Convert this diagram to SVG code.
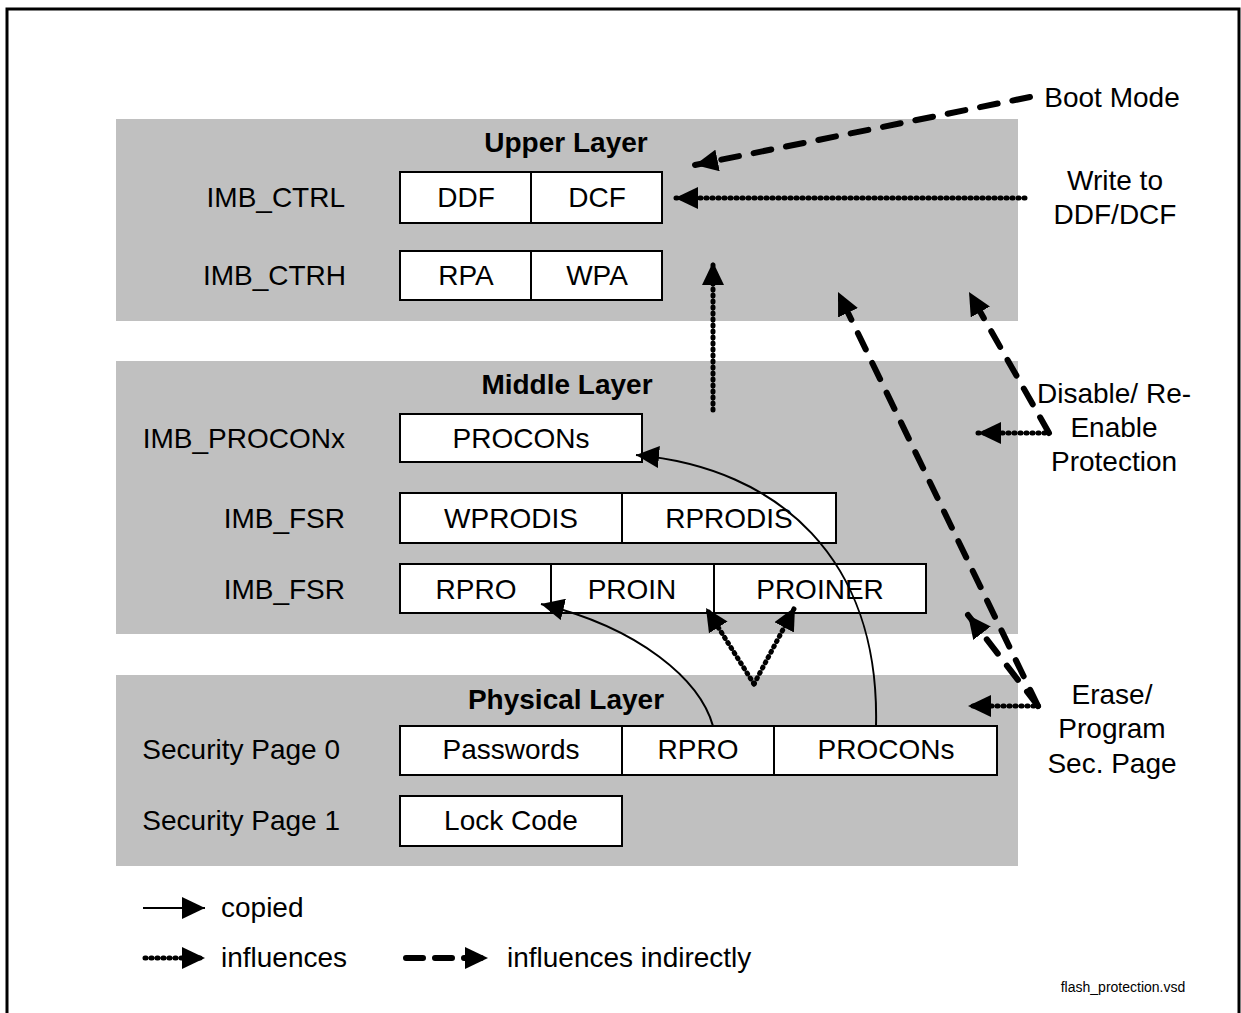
<svg xmlns="http://www.w3.org/2000/svg" width="1241" height="1013" viewBox="0 0 1241 1013">
<style>
text{font-family:"Liberation Sans",Arial,sans-serif;font-size:28px;fill:#000}
.b{font-weight:bold}
.m{text-anchor:middle}
.e{text-anchor:end}
.layer{fill:#c0c0c0;stroke:none}
.box{fill:#fff;stroke:#000;stroke-width:2}
.div{stroke:#000;stroke-width:2}
.solid{fill:none;stroke:#000;stroke-width:2;marker-end:url(#ah)}
.dot{fill:none;stroke:#000;stroke-width:5;stroke-linecap:round;stroke-dasharray:1 5;marker-end:url(#ah)}
.dash{fill:none;stroke:#000;stroke-width:6;stroke-linecap:round;stroke-dasharray:18 15;marker-end:url(#ah)}
</style>
<defs>
<marker id="ah" markerUnits="userSpaceOnUse" markerWidth="24" markerHeight="22" refX="23" refY="11" orient="auto" viewBox="0 0 24 22">
<path d="M0,0 L23,11 L0,22 z" fill="#000"/>
</marker>
</defs>
<rect x="7" y="9" width="1232" height="1020" fill="#fff" stroke="#000" stroke-width="3"/>

<g id="upper-layer">
<rect class="layer" x="116" y="119" width="902" height="202"/>
<text class="b m" x="566" y="152">Upper Layer</text>
<text class="e" x="345" y="207">IMB_CTRL</text>
<text class="e" x="346" y="285">IMB_CTRH</text>
</g>
<g id="imb-ctrl">
<rect class="box" x="400" y="172" width="262" height="51"/>
<line class="div" x1="531" y1="172" x2="531" y2="223"/>
<text class="m" x="466" y="207">DDF</text>
<text class="m" x="597" y="207">DCF</text>
</g>
<g id="imb-ctrh">
<rect class="box" x="400" y="251" width="262" height="49"/>
<line class="div" x1="531" y1="251" x2="531" y2="300"/>
<text class="m" x="466" y="285">RPA</text>
<text class="m" x="597" y="285">WPA</text>
</g>

<g id="middle-layer">
<rect class="layer" x="116" y="361" width="902" height="273"/>
<text class="b m" x="567" y="394">Middle Layer</text>
<text class="e" x="345" y="448">IMB_PROCONx</text>
<text class="e" x="345" y="528">IMB_FSR</text>
<text class="e" x="345" y="599">IMB_FSR</text>
</g>
<g id="procons-mid">
<rect class="box" x="400" y="414" width="242" height="48"/>
<text class="m" x="521" y="448">PROCONs</text>
</g>
<g id="fsr1">
<rect class="box" x="400" y="493" width="436" height="50"/>
<line class="div" x1="622" y1="493" x2="622" y2="543"/>
<text class="m" x="511" y="528">WPRODIS</text>
<text class="m" x="729" y="528">RPRODIS</text>
</g>
<g id="fsr2">
<rect class="box" x="400" y="564" width="526" height="49"/>
<line class="div" x1="551" y1="564" x2="551" y2="613"/>
<line class="div" x1="714" y1="564" x2="714" y2="613"/>
<text class="m" x="476" y="599">RPRO</text>
<text class="m" x="632" y="599">PROIN</text>
<text class="m" x="820" y="599">PROINER</text>
</g>

<g id="physical-layer">
<rect class="layer" x="116" y="675" width="902" height="191"/>
<text class="b m" x="566" y="709">Physical Layer</text>
<text class="e" x="340" y="759">Security Page 0</text>
<text class="e" x="340" y="830">Security Page 1</text>
</g>
<g id="sec-page0">
<rect class="box" x="400" y="726" width="597" height="49"/>
<line class="div" x1="622" y1="726" x2="622" y2="775"/>
<line class="div" x1="774" y1="726" x2="774" y2="775"/>
<text class="m" x="511" y="759">Passwords</text>
<text class="m" x="698" y="759">RPRO</text>
<text class="m" x="886" y="759">PROCONs</text>
</g>
<g id="sec-page1">
<rect class="box" x="400" y="796" width="222" height="50"/>
<text class="m" x="511" y="830">Lock Code</text>
</g>

<g id="labels">
<text class="m" x="1112" y="107">Boot Mode</text>
<text class="m" x="1115" y="190">Write to</text>
<text class="m" x="1115" y="224">DDF/DCF</text>
<text class="m" x="1114" y="403">Disable/ Re-</text>
<text class="m" x="1114" y="437">Enable</text>
<text class="m" x="1114" y="471">Protection</text>
<text class="m" x="1112" y="704">Erase/</text>
<text class="m" x="1112" y="738">Program</text>
<text class="m" x="1112" y="773">Sec. Page</text>
</g>

<g id="connectors">
<path class="dash" d="M1030,97 L695,165"/>
<path class="dot" d="M1025,198 L675,198"/>
<path class="dot" d="M713,410 L713,262"/>
<path class="dash" d="M1049,433 L969,292"/>
<path class="dot" d="M1045,433 L978,433"/>
<path class="dash" d="M1038,706 L838,292"/>
<path class="dash" d="M1038,706 L968,615"/>
<path class="dot" d="M1034,706 L968,706"/>
<path class="dot" d="M754,684 L706,608"/>
<path class="dot" d="M754,684 L795,607"/>
<path class="solid" d="M713,726 C700,680 640,628 541,604"/>
<path class="solid" d="M876,726 C880,560 780,468 636,455"/>
</g>

<g id="legend">
<path class="solid" d="M143,908 L205,908"/>
<text x="221" y="917">copied</text>
<path class="dot" d="M145,958 L205,958"/>
<text x="221" y="967">influences</text>
<path class="dash" d="M406,958 L488,958" style="stroke-dasharray:17 12"/>
<text x="507" y="967">influences indirectly</text>
<text x="1123" y="992" class="m" style="font-size:14px">flash_protection.vsd</text>
</g>
</svg>
